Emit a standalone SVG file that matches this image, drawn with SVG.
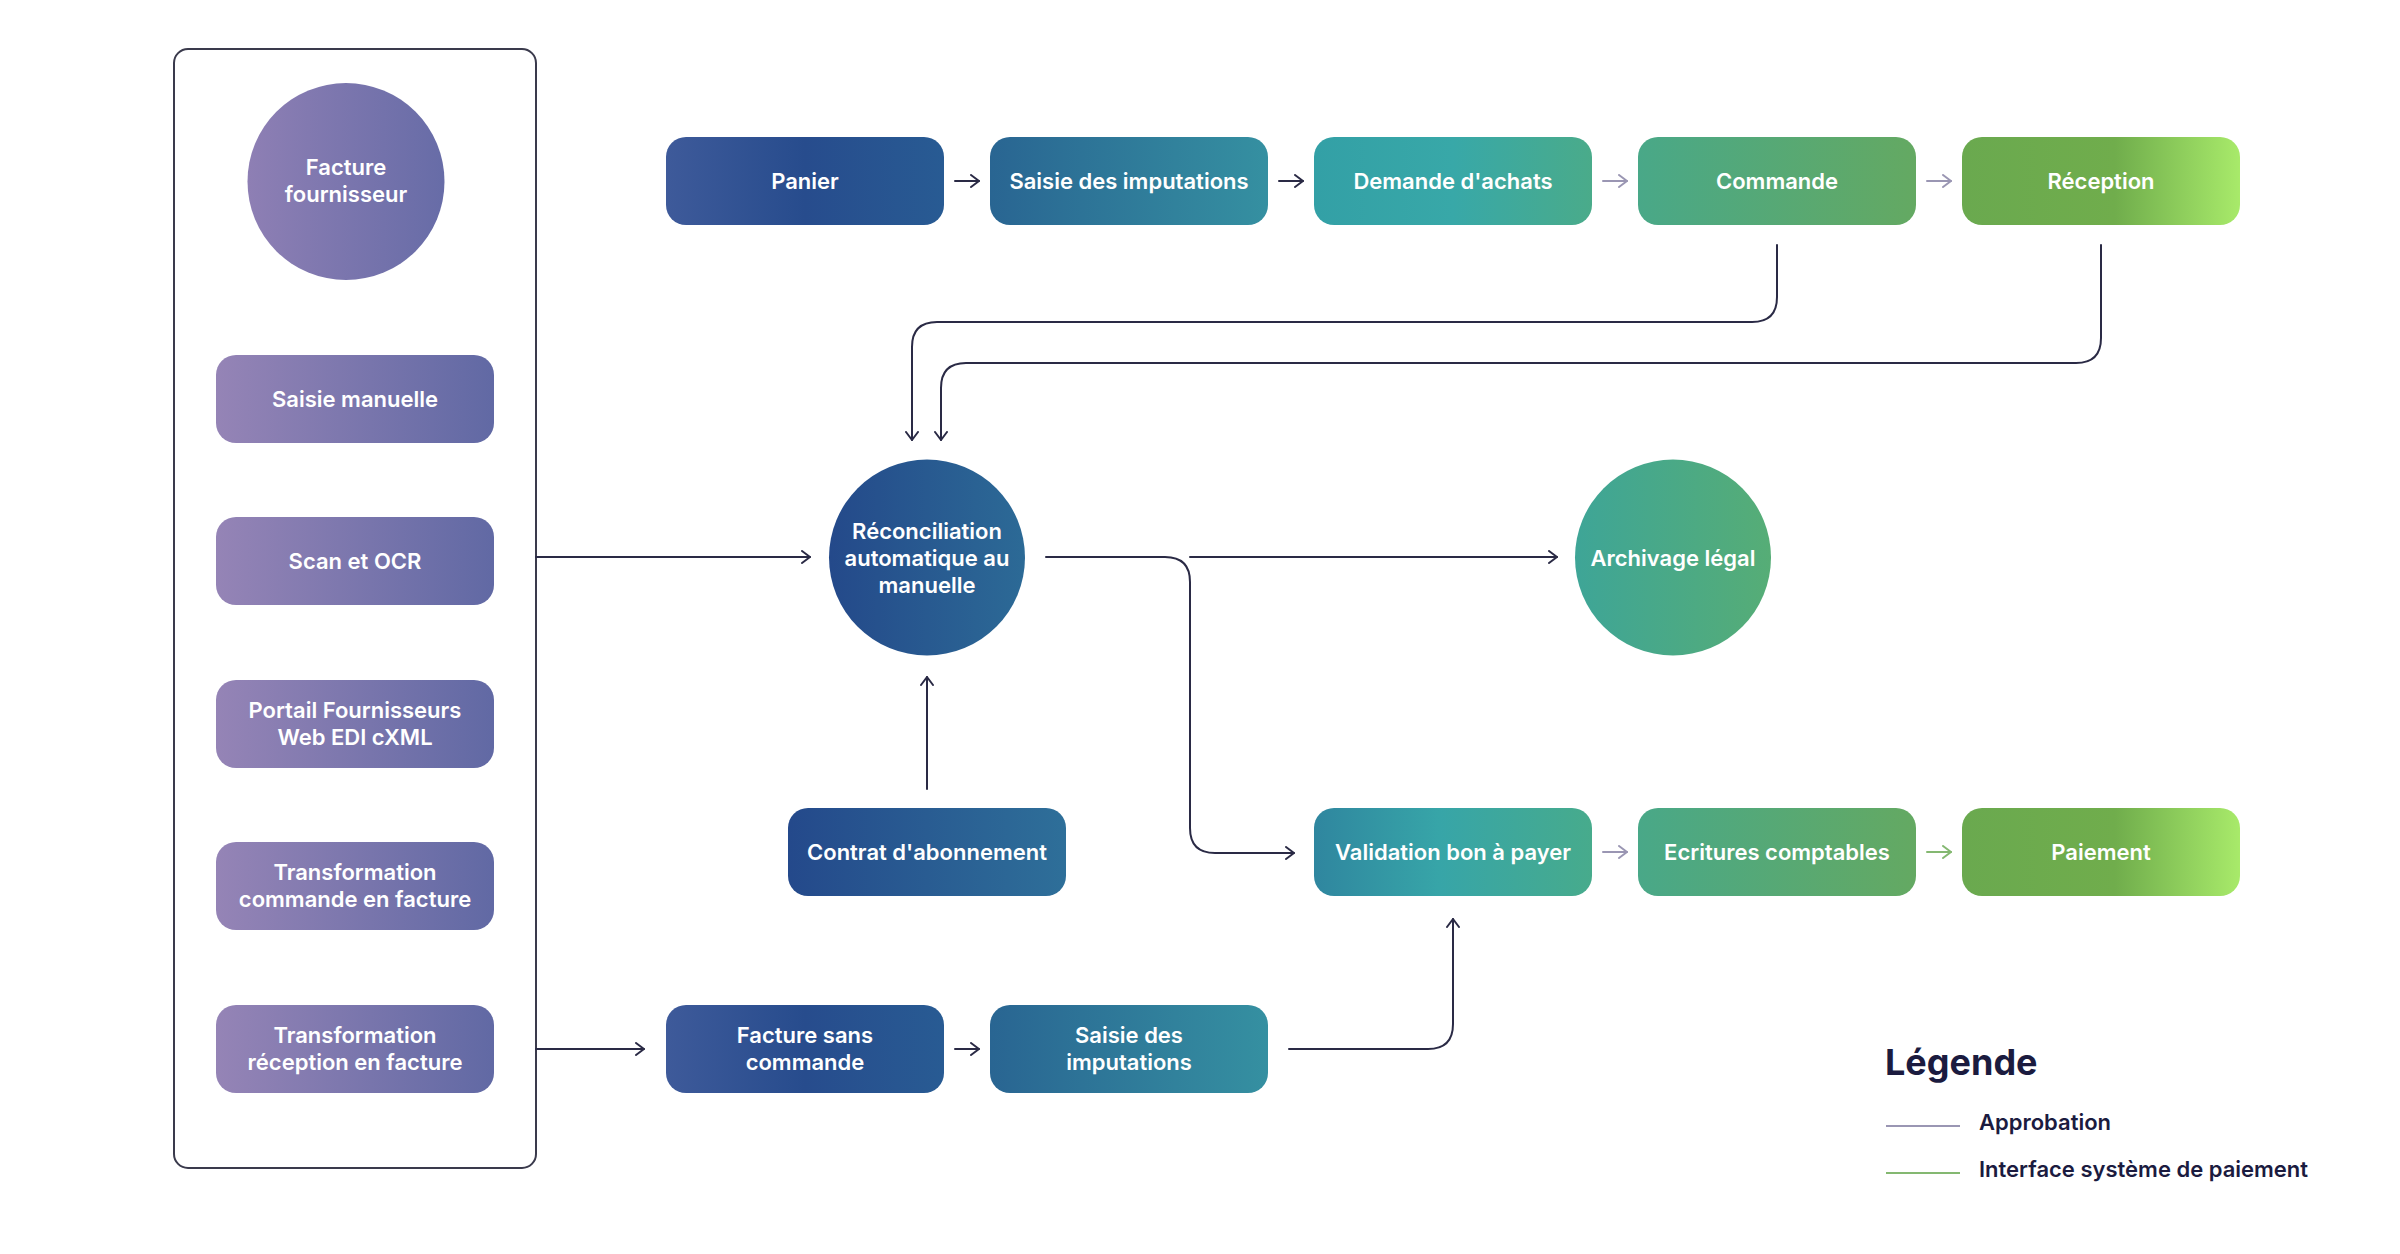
<svg xmlns="http://www.w3.org/2000/svg" width="2400" height="1254" viewBox="0 0 2400 1254">
<style>
.t{font-family:Inter,"Open Sans",sans-serif;font-weight:600;font-size:22px;fill:#ffffff;text-anchor:middle}
.c{fill:none;stroke-width:2;stroke-linecap:round}
.dark{stroke:#2a2a45}
.grey{stroke:#9a96b3}
.green{stroke:#84b871}
.lg{font-family:Inter,"Open Sans",sans-serif;fill:#1b1b3f}
</style>
<defs>
<linearGradient id="gPurple" x1="0" y1="0" x2="1" y2="0"><stop offset="0" stop-color="#9584b6"/><stop offset="1" stop-color="#6169a4"/></linearGradient>
<linearGradient id="gCircle" x1="0" y1="0" x2="1" y2="0"><stop offset="0" stop-color="#8e7fb4"/><stop offset="1" stop-color="#676ca7"/></linearGradient>
<linearGradient id="gPanier" x1="0" y1="0" x2="1" y2="0"><stop offset="0" stop-color="#3e5a9a"/><stop offset="0.5" stop-color="#274c8d"/><stop offset="1" stop-color="#285b93"/></linearGradient>
<linearGradient id="gSaisie" x1="0" y1="0" x2="1" y2="0"><stop offset="0" stop-color="#296592"/><stop offset="1" stop-color="#3590a1"/></linearGradient>
<linearGradient id="gDemande" x1="0" y1="0" x2="1" y2="0"><stop offset="0" stop-color="#33a0a6"/><stop offset="0.5" stop-color="#38a8a8"/><stop offset="1" stop-color="#4aab8a"/></linearGradient>
<linearGradient id="gCommande" x1="0" y1="0" x2="1" y2="0"><stop offset="0" stop-color="#49a888"/><stop offset="1" stop-color="#64a962"/></linearGradient>
<linearGradient id="gReception" x1="0" y1="0" x2="1" y2="0"><stop offset="0" stop-color="#6aa94f"/><stop offset="0.55" stop-color="#70ad4c"/><stop offset="1" stop-color="#a8ea6a"/></linearGradient>
<linearGradient id="gRecon" x1="0" y1="0" x2="1" y2="0"><stop offset="0" stop-color="#24498a"/><stop offset="1" stop-color="#2c6a96"/></linearGradient>
<linearGradient id="gArch" x1="0" y1="0" x2="1" y2="0"><stop offset="0" stop-color="#3ea597"/><stop offset="1" stop-color="#56ad76"/></linearGradient>
<linearGradient id="gContrat" x1="0" y1="0" x2="1" y2="0"><stop offset="0" stop-color="#24498b"/><stop offset="1" stop-color="#2e6f99"/></linearGradient>
<linearGradient id="gValid" x1="0" y1="0" x2="1" y2="0"><stop offset="0" stop-color="#2f869f"/><stop offset="0.45" stop-color="#37a5a8"/><stop offset="1" stop-color="#47ab8c"/></linearGradient>
<marker id="aDark" viewBox="0 0 10 14" refX="9" refY="7" markerWidth="10" markerHeight="14" markerUnits="userSpaceOnUse" orient="auto"><path d="M1,1 L9,7 L1,13" fill="none" stroke="#2a2a45" stroke-width="2" stroke-linecap="round" stroke-linejoin="round"/></marker>
<marker id="aGrey" viewBox="0 0 10 14" refX="9" refY="7" markerWidth="10" markerHeight="14" markerUnits="userSpaceOnUse" orient="auto"><path d="M1,1 L9,7 L1,13" fill="none" stroke="#9a96b3" stroke-width="2" stroke-linecap="round" stroke-linejoin="round"/></marker>
<marker id="aGreen" viewBox="0 0 10 14" refX="9" refY="7" markerWidth="10" markerHeight="14" markerUnits="userSpaceOnUse" orient="auto"><path d="M1,1 L9,7 L1,13" fill="none" stroke="#84b871" stroke-width="2" stroke-linecap="round" stroke-linejoin="round"/></marker>
</defs>
<rect width="2400" height="1254" fill="#ffffff"/>

<g id="sources">
<rect x="174" y="49" width="362" height="1119" rx="14" fill="#ffffff" stroke="#3a3a4c" stroke-width="2"/>
</g>
<g id="facture-fournisseur"><circle cx="346" cy="181.5" r="98.5" fill="url(#gCircle)"/><text class="t" x="346" y="175">Facture</text><text class="t" x="346" y="202">fournisseur</text></g>
<g id="saisie-manuelle"><rect x="216" y="355" width="278" height="88" rx="20" fill="url(#gPurple)"/><text class="t" x="355" y="407">Saisie manuelle</text></g>
<g id="scan-ocr"><rect x="216" y="517" width="278" height="88" rx="20" fill="url(#gPurple)"/><text class="t" x="355" y="569">Scan et OCR</text></g>
<g id="portail"><rect x="216" y="680" width="278" height="88" rx="20" fill="url(#gPurple)"/><text class="t" x="355" y="718">Portail Fournisseurs</text><text class="t" x="355" y="745">Web EDI cXML</text></g>
<g id="transfo-commande"><rect x="216" y="842" width="278" height="88" rx="20" fill="url(#gPurple)"/><text class="t" x="355" y="880">Transformation</text><text class="t" x="355" y="907">commande en facture</text></g>
<g id="transfo-reception"><rect x="216" y="1005" width="278" height="88" rx="20" fill="url(#gPurple)"/><text class="t" x="355" y="1043">Transformation</text><text class="t" x="355" y="1070">réception en facture</text></g>

<g id="panier"><rect x="666" y="137" width="278" height="88" rx="20" fill="url(#gPanier)"/><text class="t" x="805" y="189">Panier</text></g>
<g id="saisie-imputations"><rect x="990" y="137" width="278" height="88" rx="20" fill="url(#gSaisie)"/><text class="t" x="1129" y="189">Saisie des imputations</text></g>
<g id="demande-achats"><rect x="1314" y="137" width="278" height="88" rx="20" fill="url(#gDemande)"/><text class="t" x="1453" y="189">Demande d'achats</text></g>
<g id="commande"><rect x="1638" y="137" width="278" height="88" rx="20" fill="url(#gCommande)"/><text class="t" x="1777" y="189">Commande</text></g>
<g id="reception"><rect x="1962" y="137" width="278" height="88" rx="20" fill="url(#gReception)"/><text class="t" x="2101" y="189">Réception</text></g>

<g id="reconciliation"><circle cx="927" cy="557.5" r="98" fill="url(#gRecon)"/><text class="t" x="927" y="539">Réconciliation</text><text class="t" x="927" y="566">automatique au</text><text class="t" x="927" y="593">manuelle</text></g>
<g id="archivage"><circle cx="1673" cy="557.5" r="98" fill="url(#gArch)"/><text class="t" x="1673" y="565.5">Archivage légal</text></g>
<g id="contrat"><rect x="788" y="808" width="278" height="88" rx="20" fill="url(#gContrat)"/><text class="t" x="927" y="860">Contrat d'abonnement</text></g>

<g id="validation"><rect x="1314" y="808" width="278" height="88" rx="20" fill="url(#gValid)"/><text class="t" x="1453" y="860">Validation bon à payer</text></g>
<g id="ecritures"><rect x="1638" y="808" width="278" height="88" rx="20" fill="url(#gCommande)"/><text class="t" x="1777" y="860">Ecritures comptables</text></g>
<g id="paiement"><rect x="1962" y="808" width="278" height="88" rx="20" fill="url(#gReception)"/><text class="t" x="2101" y="860">Paiement</text></g>

<g id="facture-sans-commande"><rect x="666" y="1005" width="278" height="88" rx="20" fill="url(#gPanier)"/><text class="t" x="805" y="1043">Facture sans</text><text class="t" x="805" y="1070">commande</text></g>
<g id="saisie-imputations-2"><rect x="990" y="1005" width="278" height="88" rx="20" fill="url(#gSaisie)"/><text class="t" x="1129" y="1043">Saisie des</text><text class="t" x="1129" y="1070">imputations</text></g>

<g id="connectors">
<path class="c dark" d="M955,181 H979" marker-end="url(#aDark)"/>
<path class="c dark" d="M1279,181 H1303" marker-end="url(#aDark)"/>
<path class="c grey" d="M1603,181 H1627" marker-end="url(#aGrey)"/>
<path class="c grey" d="M1927,181 H1951" marker-end="url(#aGrey)"/>
<path class="c grey" d="M1603,852 H1627" marker-end="url(#aGrey)"/>
<path class="c green" d="M1927,852 H1951" marker-end="url(#aGreen)"/>
<path class="c dark" d="M955,1049 H979" marker-end="url(#aDark)"/>
<path class="c dark" d="M1777,245 V297 Q1777,322 1752,322 H937 Q912,322 912,347 V440" marker-end="url(#aDark)"/>
<path class="c dark" d="M2101,245 V338 Q2101,363 2076,363 H966 Q941,363 941,388 V440" marker-end="url(#aDark)"/>
<path class="c dark" d="M536,557 H810" marker-end="url(#aDark)"/>
<path class="c dark" d="M1046,557 H1165 Q1190,557 1190,582 V828 Q1190,853 1215,853 H1294" marker-end="url(#aDark)"/>
<path class="c dark" d="M1190,557 H1557" marker-end="url(#aDark)"/>
<path class="c dark" d="M927,789 V677" marker-end="url(#aDark)"/>
<path class="c dark" d="M536,1049 H644" marker-end="url(#aDark)"/>
<path class="c dark" d="M1289,1049 H1428 Q1453,1049 1453,1024 V919" marker-end="url(#aDark)"/>
</g>

<g id="legend">
<text class="lg" x="1885" y="1075" font-size="36" font-weight="700">Légende</text>
<line x1="1886" y1="1126" x2="1960" y2="1126" stroke="#9a96b3" stroke-width="2"/>
<text class="lg" x="1979" y="1130" font-size="22" font-weight="600">Approbation</text>
<line x1="1886" y1="1173" x2="1960" y2="1173" stroke="#84b871" stroke-width="2"/>
<text class="lg" x="1979" y="1177" font-size="22" font-weight="600">Interface système de paiement</text>
</g>
</svg>
